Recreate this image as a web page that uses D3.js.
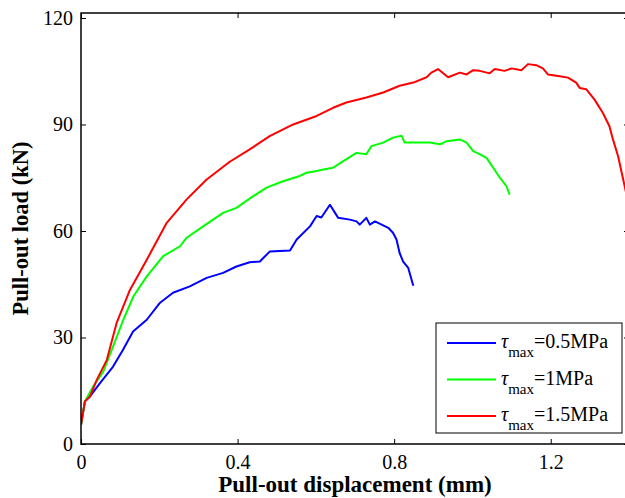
<!DOCTYPE html>
<html>
<head>
<meta charset="utf-8">
<script src="https://cdn.jsdelivr.net/npm/d3@7"></script>
<style>
  body { margin: 0; background: #fff; }
  svg text { font-family: "Liberation Serif", "Times New Roman", serif; fill: #000; }
</style>
</head>
<body>
<div id="container-svg"></div>
<script>
// Data: [displacement (mm), load (kN)]
const blueData = [
  [0, 5.4], [0.01, 12], [0.023, 13.4], [0.049, 17.2], [0.082, 21.8], [0.107, 26.5],
  [0.133, 31.7], [0.168, 35], [0.202, 39.8], [0.235, 42.6], [0.278, 44.4], [0.321, 46.8],
  [0.363, 48.2], [0.397, 50], [0.431, 51.2], [0.457, 51.4], [0.482, 54.2], [0.534, 54.5],
  [0.551, 57.6], [0.585, 61.3], [0.602, 64.2], [0.614, 63.8], [0.636, 67.4], [0.657, 63.7],
  [0.687, 63.2], [0.704, 62.7], [0.712, 61.8], [0.729, 63.7], [0.738, 61.8], [0.751, 62.7],
  [0.768, 61.8], [0.785, 60.9], [0.797, 59.5], [0.806, 57.6], [0.814, 53.8], [0.823, 51.4],
  [0.836, 49.6], [0.849, 44.6]
]
const greenData = [
  [0, 5.4], [0.01, 12], [0.031, 16.2], [0.057, 20.4], [0.082, 27.5], [0.108, 35],
  [0.134, 41.6], [0.168, 47.2], [0.21, 52.9], [0.253, 55.7], [0.27, 58.1], [0.312, 61.3],
  [0.363, 65.1], [0.397, 66.5], [0.44, 69.8], [0.474, 72.2], [0.516, 74], [0.559, 75.5],
  [0.576, 76.4], [0.602, 76.9], [0.619, 77.3], [0.644, 77.8], [0.67, 79.7], [0.704, 82],
  [0.729, 81.6], [0.742, 83.9], [0.772, 84.9], [0.797, 86.3], [0.819, 86.8], [0.827, 84.9],
  [0.857, 84.9], [0.891, 84.9], [0.917, 84.4], [0.934, 85.3], [0.968, 85.8], [0.985, 84.9],
  [1.002, 82.5], [1.019, 81.6], [1.036, 80.6], [1.053, 77.8], [1.07, 75], [1.087, 72.6],
  [1.095, 70.2]
]
const redData = [
  [0, 5.4], [0.01, 12], [0.023, 13.4], [0.04, 18], [0.066, 23.7], [0.091, 34.1],
  [0.125, 43.4], [0.168, 51.9], [0.219, 62.3], [0.27, 68.9], [0.321, 74.5], [0.38, 79.5],
  [0.431, 83], [0.482, 86.7], [0.542, 90], [0.602, 92.4], [0.644, 94.7], [0.678, 96.2],
  [0.729, 97.6], [0.772, 99], [0.814, 100.9], [0.849, 101.8], [0.883, 103.3], [0.895, 104.6],
  [0.912, 105.6], [0.938, 103.3], [0.968, 104.6], [0.985, 104.1], [1.002, 105.3], [1.019, 105.1],
  [1.044, 104.4], [1.057, 105.6], [1.082, 105.1], [1.1, 105.8], [1.125, 105.3], [1.142, 107],
  [1.163, 106.7], [1.18, 105.8], [1.193, 104.1], [1.223, 103.6], [1.244, 103.2], [1.265, 101.8],
  [1.274, 100.3], [1.291, 99.9], [1.312, 97], [1.333, 93.3], [1.35, 89.5], [1.359, 85.8],
  [1.372, 81.1], [1.389, 72.6], [1.395, 69.5]
]
const seriesNames = ["=0.5MPa", "=1MPa", "=1.5MPa"]
const seriesColors = ["#0000ff", "#00ff00", "#ff0000"]
const xTicks = [0, 0.4, 0.8, 1.2]
const yTicks = [0, 30, 60, 90, 120]

// SVG setup
const W = 625, H = 498
const margin = { top: 13, right: -4, bottom: 54, left: 81 }
const width = W - margin.left - margin.right
const height = H - margin.top - margin.bottom

const svg = d3.select("#container-svg").append("svg")
  .attr("width", W).attr("height", H)

const x = d3.scaleLinear().domain([0, 1.4]).range([0, width])
const y = d3.scaleLinear().domain([0, 121.4]).range([height, 0])

const g = svg.append("g").attr("transform", "translate(" + margin.left + "," + margin.top + ")")

svg.append("defs").append("clipPath").attr("id", "plotclip")
  .append("rect").attr("width", width).attr("height", height)

// Curves
const line = d3.line().x(d => x(d[0])).y(d => y(d[1]))
const allData = [blueData, greenData, redData]
g.append("g").attr("clip-path", "url(#plotclip)")
  .selectAll("path")
  .data(allData)
  .join("path")
  .attr("d", line)
  .attr("fill", "none")
  .attr("stroke", (d, i) => seriesColors[i])
  .attr("stroke-width", 2)
  .attr("stroke-linejoin", "round")

// Axes, ticks pointing inward, box on
const axisStyle = function(sel) {
  sel.attr("font-family", null).attr("font-size", null)
  sel.select(".domain").remove()
  sel.selectAll(".tick line").attr("stroke", "#000")
  sel.selectAll(".tick text").style("font-size", "20px")
}
g.append("g").attr("transform", "translate(0," + height + ")")
  .call(d3.axisBottom(x).tickValues(xTicks).tickFormat(d3.format("")).tickSizeInner(-5).tickPadding(11))
  .call(axisStyle)
g.append("g")
  .call(d3.axisTop(x).tickValues(xTicks).tickFormat("").tickSizeInner(-5))
  .call(axisStyle)
g.append("g")
  .call(d3.axisLeft(y).tickValues(yTicks).tickSizeInner(-5).tickPadding(8))
  .call(axisStyle)
g.append("g").attr("transform", "translate(" + width + ",0)")
  .call(d3.axisRight(y).tickValues(yTicks).tickFormat("").tickSizeInner(-5))
  .call(axisStyle)

g.append("rect").attr("width", width).attr("height", height)
  .attr("fill", "none").attr("stroke", "#000").attr("stroke-width", 1.5)

// Axis titles
svg.append("text")
  .attr("x", margin.left + width / 2).attr("y", 492)
  .attr("text-anchor", "middle").style("font-size", "23px").style("font-weight", "bold")
  .text("Pull-out displacement (mm)")
svg.append("text")
  .attr("transform", "translate(28," + (margin.top + height / 2) + ") rotate(-90)")
  .attr("text-anchor", "middle").style("font-size", "22.5px").style("font-weight", "bold")
  .text("Pull-out load (kN)")

// Legend
const legend = svg.append("g").attr("transform", "translate(436,323)")
legend.append("rect").attr("width", 186).attr("height", 110)
  .attr("fill", "#fff").attr("stroke", "#000").attr("stroke-width", 1)
const entries = legend.selectAll("g.entry")
  .data(seriesNames)
  .join("g").attr("class", "entry")
  .attr("transform", (d, i) => "translate(0," + (20 + i * 36.5) + ")")
entries.append("line")
  .attr("x1", 11).attr("x2", 60)
  .attr("stroke", (d, i) => seriesColors[i]).attr("stroke-width", 2)
const label = entries.append("text").attr("x", 65).attr("y", 5).style("font-size", "20px")
label.append("tspan").style("font-style", "italic").text("τ")
label.append("tspan").attr("dy", 9).style("font-size", "15px").text("max")
label.append("tspan").attr("dy", -9).text(d => d)
</script>
</body>
</html>
